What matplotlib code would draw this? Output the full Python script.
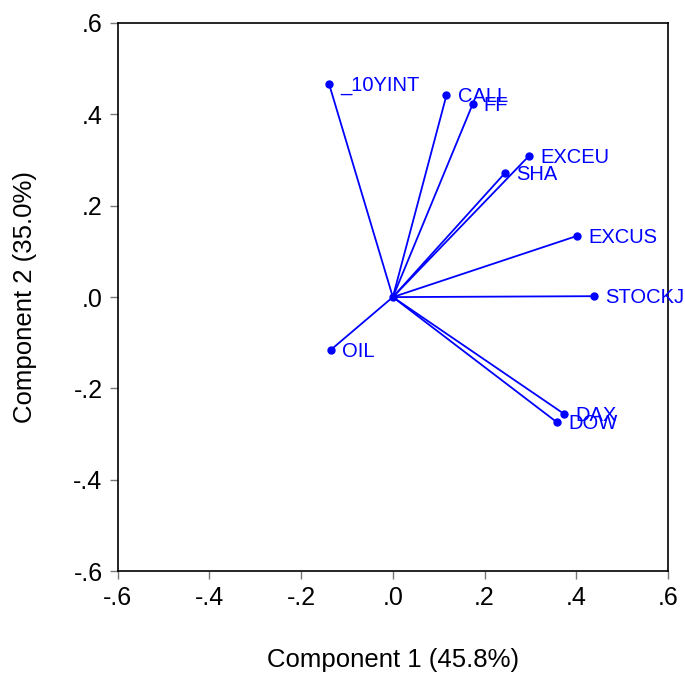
import matplotlib
matplotlib.use("Agg")
import matplotlib.pyplot as plt

names = ["_10YINT", "CALL", "FF", "EXCEU", "SHA", "EXCUS", "STOCKJ", "OIL", "DAX", "DOW"]
comp1 = [-0.139, 0.117, 0.174, 0.297, 0.244, 0.402, 0.438, -0.136, 0.374, 0.358]
comp2 = [0.466, 0.442, 0.422, 0.309, 0.271, 0.134, 0.002, -0.116, -0.256, -0.274]
ticks = [-0.6, -0.4, -0.2, 0.0, 0.2, 0.4, 0.6]
tick_labels = ["-.6", "-.4", "-.2", ".0", ".2", ".4", ".6"]

plt.rcParams["font.family"] = ["Liberation Sans", "DejaVu Sans"]

fig = plt.figure(figsize=(6.85, 6.76), dpi=100)
ax = fig.add_axes([0.172, 0.155, 0.803, 0.811])

for name, x, y in zip(names, comp1, comp2):
    ax.plot([0, x], [0, y], color="#0000ff", lw=1.3, solid_capstyle="round")
    ax.plot(x, y, "o", color="#0000ff", ms=5)
    # labels overlap in the original too (CALL/FF, DAX/DOW)
    ax.annotate(name, (x, y), xytext=(8, -1), textcoords="offset points",
                va="center", ha="left", color="#0000ff", fontsize=14.5)
ax.plot(0, 0, "o", color="#0000ff", ms=5)

ax.set_xlim(-0.6, 0.6)
ax.set_ylim(-0.6, 0.6)
ax.set_xticks(ticks)
ax.set_xticklabels(tick_labels)
ax.set_yticks(ticks)
ax.set_yticklabels(tick_labels)
ax.tick_params(direction="out", length=6, width=1, color="#777777", labelsize=18, pad=5)
for s in ax.spines.values():
    s.set_linewidth(1.2)

ax.set_xlabel("Component 1 (45.8%)", fontsize=18.5, labelpad=27)
ax.set_ylabel("Component 2 (35.0%)", fontsize=18.5, labelpad=26)

fig.savefig("out.png", dpi=100)
